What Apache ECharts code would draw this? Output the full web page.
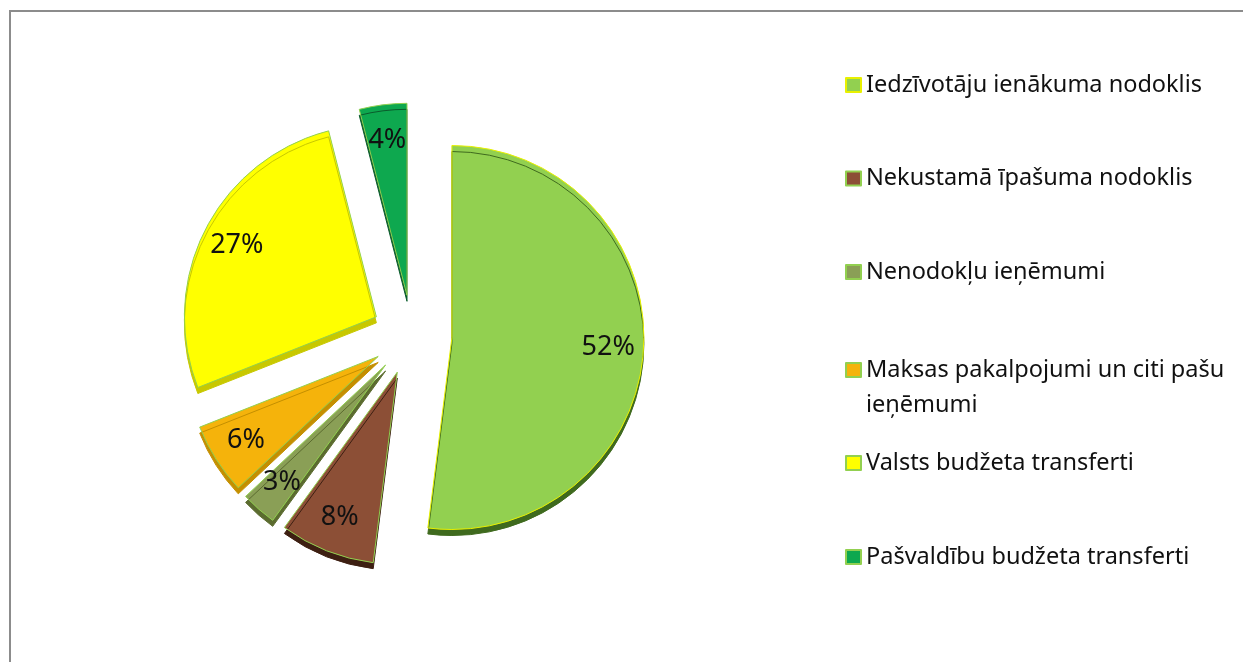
<!DOCTYPE html>
<html>
<head>
    <meta charset="utf-8">
    <script src="https://cdn.jsdelivr.net/npm/echarts@6/dist/echarts.min.js"></script>
    <title></title>
    <style>
        html, body { margin: 0; padding: 0; background: #fff; }
        #chart { width: 1243px; height: 662px; }
    </style>
</head>
<body>
<div id="chart"></div>
<script>
    // ienēmumu struktūra, %
    var names = [
        'Iedzīvotāju ienākuma nodoklis',
        'Nekustamā īpašuma nodoklis',
        'Nenodokļu ieņēmumi',
        'Maksas pakalpojumi un citi pašu ieņēmumi',
        'Valsts budžeta transferti',
        'Pašvaldību budžeta transferti'
    ];
    var shares = [52, 8, 3, 6, 27, 4];
    var colors = ['#92d050', '#8c4f36', '#8a9f56', '#f5b30b', '#ffff00', '#0ea84f'];
    var edges = ['#e8f000', '#92d050', '#92d050', '#92d050', '#92d050', '#92d050'];
    var sides = ['#3f6a1e', '#3d1f12', '#5b6b2f', '#c48f00', '#c8c800', '#0a5c2c'];

    var font = '"Noto Sans", sans-serif';
    var center = [412, 335];
    var R = 192;

    var pieData = names.map(function (n, i) {
        return {
            name: n, value: shares[i], selected: true,
            itemStyle: { color: colors[i], borderColor: edges[i], shadowColor: sides[i] }
        };
    });
    var labelData = names.map(function (n, i) {
        return { name: n, value: shares[i], selected: true };
    });

    var legendBase = {
        orient: 'vertical',
        left: 845,
        padding: 0,
        icon: 'rect',
        itemWidth: 15,
        itemHeight: 14,
        selectedMode: false,
        itemStyle: { borderWidth: 2 },
        textStyle: { fontFamily: font, fontSize: 23.5, color: '#111', lineHeight: 35 }
    };

    var chart = echarts.init(document.getElementById('chart'));
    chart.setOption({
        animation: false,
        graphic: [{
            type: 'rect',
            shape: { x: 10, y: 11, width: 1400, height: 800 },
            style: { fill: 'none', stroke: '#8c8c8c', lineWidth: 2 },
            silent: true
        }],
        legend: [
            Object.assign({}, legendBase, { top: 67.5, itemGap: 58.5, data: names.slice(0, 3) }),
            Object.assign({}, legendBase, {
                top: 317.5, data: names.slice(3, 4),
                // garais nosaukums divās rindās, ikona pie pirmās rindas
                formatter: function (n) { return '\n' + n.replace(' ieņēmumi', '\nieņēmumi'); }
            }),
            Object.assign({}, legendBase, { top: 445.5, itemGap: 59, data: names.slice(4) })
        ],
        series: [
            {
                type: 'pie',
                center: center,
                radius: R,
                startAngle: 90,
                clockwise: true,
                selectedMode: 'multiple',
                selectedOffset: 40,
                avoidLabelOverlap: false,
                label: { show: false },
                labelLine: { show: false },
                itemStyle: { borderWidth: 1, shadowBlur: 0, shadowOffsetX: 0, shadowOffsetY: 6 },
                emphasis: { disabled: true },
                data: pieData
            },
            {
                type: 'pie',
                center: center,
                radius: [R * 0.6, R],
                startAngle: 90,
                clockwise: true,
                selectedMode: 'multiple',
                selectedOffset: 40,
                silent: true,
                avoidLabelOverlap: false,
                itemStyle: { color: 'rgba(0,0,0,0)' },
                label: {
                    show: true, position: 'inside', formatter: '{c}%',
                    fontFamily: font, fontSize: 27, color: '#111'
                },
                labelLine: { show: false },
                emphasis: { disabled: true },
                data: labelData
            }
        ]
    });
</script>
</body>
</html>
